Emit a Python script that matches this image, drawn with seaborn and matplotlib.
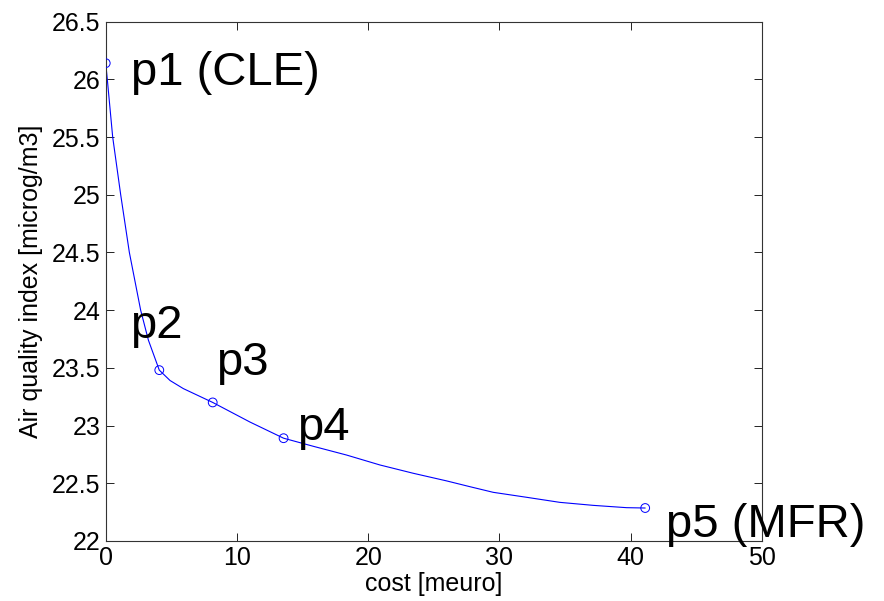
import matplotlib
matplotlib.use("Agg")
import matplotlib.pyplot as plt
import seaborn as sns
import pandas as pd
from matplotlib.ticker import FuncFormatter, MultipleLocator

# Data
point_cost = [0.0, 4.08, 8.15, 13.55, 41.1]
point_aqi = [26.14, 23.48, 23.20, 22.89, 22.285]
point_labels = ["p1 (CLE)", "p2", "p3", "p4", "p5 (MFR)"]
label_cost = [1.95, 1.85, 8.42, 14.57, 42.7]
label_aqi = [25.95, 23.756, 23.44, 22.874, 22.03]

curve_cost = [0.0, 0.12, 0.53, 1.14, 1.80, 2.66, 3.25, 4.08, 4.9, 5.91, 8.15,
              10.99, 13.55, 15.81, 18.35, 20.89, 23.43, 25.97, 27.74, 29.52,
              32.06, 34.6, 37.14, 39.68, 41.1]
curve_aqi = [26.14, 26.0, 25.5, 25.0, 24.5, 24.0, 23.74, 23.48, 23.39, 23.32, 23.20,
             23.03, 22.89, 22.82, 22.744, 22.658, 22.586, 22.52, 22.47, 22.421,
             22.378, 22.334, 22.308, 22.288, 22.285]

sns.set_style("ticks")
plt.rcParams["font.family"] = ["Liberation Sans", "DejaVu Sans"]

fig = plt.figure(figsize=(8.84, 6.01), dpi=100)
ax = fig.add_axes([0.1196, 0.100, 0.862 - 0.1196, 0.864])

curve = pd.DataFrame({"cost": curve_cost, "aqi": curve_aqi})
pts = pd.DataFrame({"cost": point_cost, "aqi": point_aqi})

sns.lineplot(data=curve, x="cost", y="aqi", sort=False, estimator=None,
             color="#0000ff", linewidth=0.8, ax=ax)
sns.scatterplot(data=pts, x="cost", y="aqi", marker="o", s=40,
                facecolors="none", edgecolor="#0000ff", linewidth=0.7, ax=ax, zorder=3)

for lab, lx, ly in zip(point_labels, label_cost, label_aqi):
    ax.text(lx, ly, lab, fontsize=34, ha="left", va="baseline", color="black", clip_on=False)

ax.set_xlim(0, 50)
ax.set_ylim(22, 26.5)
ax.xaxis.set_major_locator(MultipleLocator(10))
ax.yaxis.set_major_locator(MultipleLocator(0.5))
ax.yaxis.set_major_formatter(FuncFormatter(lambda v, p: f"{v:g}"))
ax.xaxis.set_major_formatter(FuncFormatter(lambda v, p: f"{v:g}"))

ax.tick_params(direction="in", top=True, right=True, length=6, width=0.6,
               labelsize=18, colors="black", pad=4)
for s in ax.spines.values():
    s.set_visible(True)
    s.set_linewidth(0.8)
    s.set_color("#333333")

ax.set_xlabel("cost [meuro]", fontsize=18, labelpad=1, color="black")
ax.set_ylabel("Air quality index [microg/m3]", fontsize=18, labelpad=6, color="black")

fig.savefig("out.png", dpi=100)
